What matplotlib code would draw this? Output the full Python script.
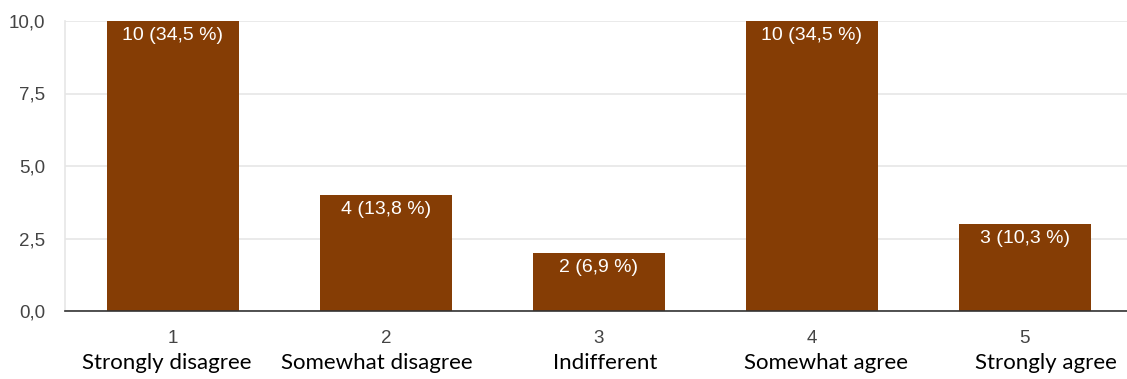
import matplotlib
matplotlib.use("Agg")
import matplotlib.pyplot as plt

positions = [1, 2, 3, 4, 5]
categories = ["Strongly disagree", "Somewhat disagree", "Indifferent", "Somewhat agree", "Strongly agree"]
counts = [10, 4, 2, 10, 3]
percents = ["34,5", "13,8", "6,9", "34,5", "10,3"]
yticks = [0.0, 2.5, 5.0, 7.5, 10.0]
ytick_labels = ["0,0", "2,5", "5,0", "7,5", "10,0"]

bar_color = "#853d05"
fig = plt.figure(figsize=(11.27, 3.79), dpi=100)
ax = fig.add_axes([65 / 1127, 1 - 311 / 379, (1127 - 65) / 1127, (311 - 21) / 379])

ax.bar(positions, counts, width=0.62, color=bar_color, zorder=3)
for x, c, p in zip(positions, counts, percents):
    ax.annotate(f"{c} ({p} %)", xy=(x, c), xytext=(0, -4), textcoords="offset points",
                ha="center", va="top", color="white", fontsize=14, family="Liberation Sans", zorder=4)

ax.set_xlim(0.493, 5.48)
ax.set_ylim(0, 10)
ax.set_yticks(yticks)
ax.set_yticklabels(ytick_labels, family="Liberation Sans", fontsize=13.5, color="#444444")
ax.yaxis.grid(True, color="#e6e6e6", linewidth=1.2, zorder=0)
ax.tick_params(axis="y", length=0, pad=14)
ax.set_xticks(positions)
ax.set_xticklabels([str(p) for p in positions], family="Liberation Sans", fontsize=13.5, color="#444444")
ax.tick_params(axis="x", length=0, pad=14)

for side in ["top", "right"]:
    ax.spines[side].set_visible(False)
ax.spines["left"].set_color("#e6e6e6")
ax.spines["left"].set_linewidth(1.2)
ax.spines["bottom"].set_color("#333333")
ax.spines["bottom"].set_linewidth(1.2)
ax.spines["bottom"].set_zorder(5)

# Text boxes under the axis sit slightly off the tick centres
label_shift_px = [-6, -9, 6, 14, 21]
for x, name, dx in zip(positions, categories, label_shift_px):
    ax.annotate(name, xy=(x, 0), xycoords=("data", "axes fraction"), xytext=(dx, -52),
                textcoords="offset pixels", ha="center", va="center", fontsize=16,
                family="Lato", color="black")

fig.savefig("out.png", dpi=100)
